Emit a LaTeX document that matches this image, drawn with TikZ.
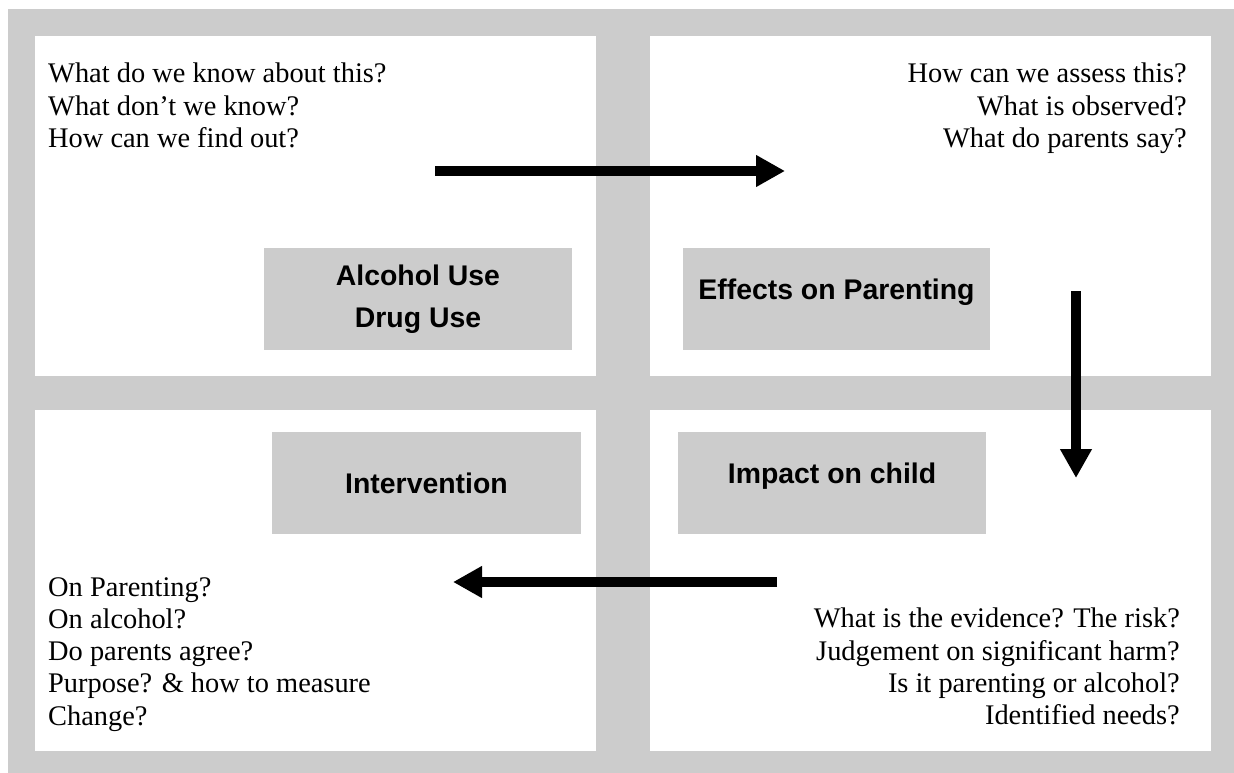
\documentclass[tikz,border=0pt]{standalone}
\usepackage{fontspec}
\setmainfont{Liberation Serif}
\newfontfamily\boxfont{Liberation Sans}
\usetikzlibrary{arrows.meta}
\definecolor{panelgray}{RGB}{204,204,204}
\tikzset{
	quad/.style={fill=white},
	topic/.style={fill=panelgray, inner sep=0pt, minimum height=102pt, align=center,
		font=\boxfont\bfseries\fontsize{28.4}{42}\selectfont},
	qs/.style={inner sep=0pt, font=\fontsize{28.4}{32.3}\selectfont},
	flow/.style={line width=10pt, -{Triangle[length=29pt,width=30pt]}}
}
\begin{document}
\begin{tikzpicture}[x=1pt, y=-1pt]
				\useasboundingbox (0,0) rectangle (1234,773);
				\fill[white] (0,0) rectangle (1234,773);
				\fill[panelgray] (8,9) rectangle (1234,773);
				\fill[quad] (35,36) rectangle (596,376);
				\fill[quad] (650,36) rectangle (1211,376);
				\fill[quad] (35,410) rectangle (596,751);
				\fill[quad] (650,410) rectangle (1211,751);
				\node[topic, minimum width=308pt] (use) at (418,299) {Alcohol Use\\Drug Use};
				\node[topic, minimum width=307pt, text depth=20pt] (parenting) at (836.5,299) {Effects on Parenting};
				\node[topic, minimum width=308pt, text depth=20pt] (child) at (832,483) {Impact on child};
				\node[topic, minimum width=309pt] (intervention) at (426.5,483) {Intervention};
				\node[qs, anchor=north west, align=left] (knowq) at (48,63) {What do we know about this?\\What don't we know?\\How can we find out?};
				\node[qs, anchor=north east, align=right] (assessq) at (1187,63) {How can we assess this?\\What is observed?\\What do parents say?};
				\node[qs, anchor=north east, align=right] (riskq) at (1180,608) {What is the evidence? The risk?\\Judgement on significant harm?\\Is it parenting or alcohol?\\Identified needs?};
				\node[qs, anchor=north west, align=left] (helpq) at (48,577) {On Parenting?\\On alcohol?\\Do parents agree?\\Purpose? \& how to measure\\Change?};
				\coordinate (f1) at (435,171);
				\coordinate (f2) at (785,171);
				\coordinate (f3) at (1076,291);
				\coordinate (f4) at (1076,478);
				\coordinate (f5) at (777,582);
				\coordinate (f6) at (453,582);
				\draw[flow] (f1) -- (f2);
				\draw[flow] (f3) -- (f4);
				\draw[flow] (f5) -- (f6);
\end{tikzpicture}
\end{document}
